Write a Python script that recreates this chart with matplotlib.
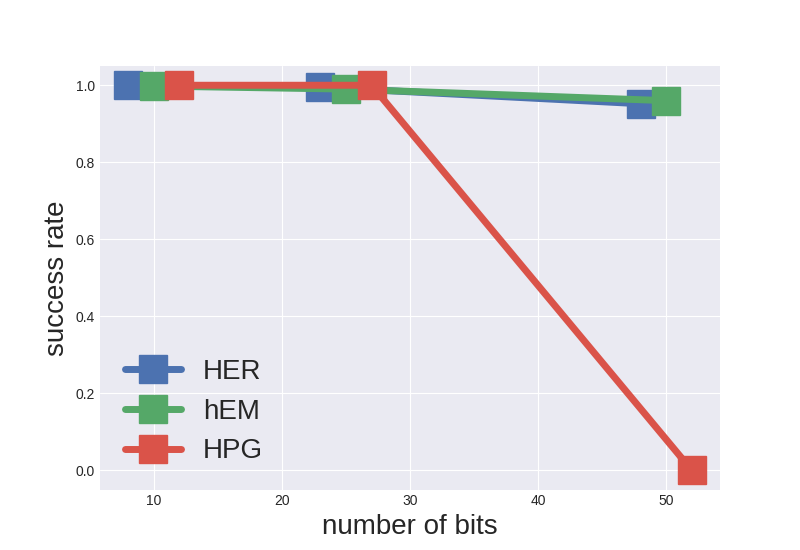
import matplotlib
matplotlib.use('Agg')
import matplotlib.pyplot as plt

plt.style.use('seaborn-v0_8-darkgrid')
plt.rcParams['font.family'] = ['Liberation Sans', 'DejaVu Sans']

her_bits = [8, 23, 48]
her_rate = [1.0, 0.995, 0.952]
hem_bits = [10, 25, 50]
hem_rate = [0.998, 0.99, 0.96]
hpg_bits = [12, 27, 52]
hpg_rate = [1.0, 1.0, 0.0]

fig = plt.figure(figsize=(8, 5.5), dpi=100)
ax = fig.add_subplot(111)
ax.plot(her_bits, her_rate, 's-', color='#4C72B0', lw=5, markersize=20, label='HER')
ax.plot(hem_bits, hem_rate, 's-', color='#55A868', lw=5, markersize=20, label='hEM')
ax.plot(hpg_bits, hpg_rate, 's-', color='#DA5349', lw=5, markersize=20, label='HPG')

ax.set_xlabel('number of bits', fontsize=20)
ax.set_ylabel('success rate', fontsize=20)
ax.legend(loc='lower left', fontsize=20, frameon=False)

fig.savefig('out.png')
